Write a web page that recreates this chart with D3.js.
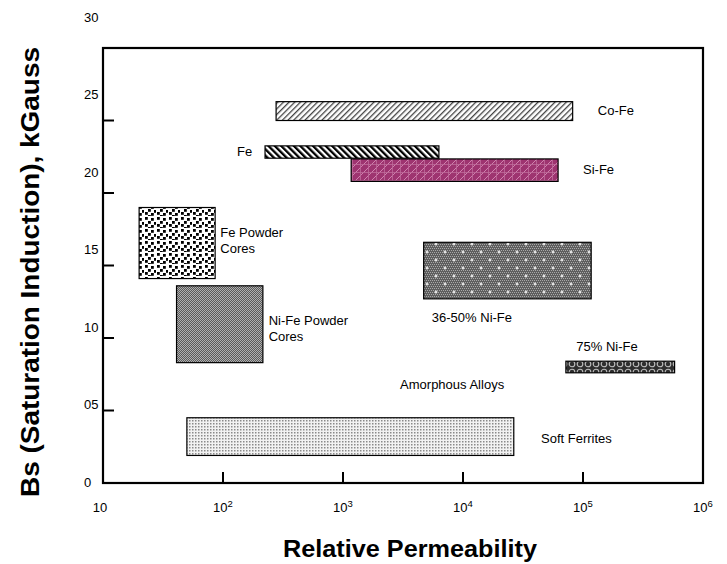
<!DOCTYPE html>
<html><head><meta charset="utf-8">
<script src="https://cdn.jsdelivr.net/npm/d3@7"></script>
<style>body{margin:0;background:#fff}svg{display:block;font-family:"Liberation Sans",Arial,sans-serif}</style>
</head><body>
<svg id="c" width="727" height="564"></svg>
<script>
// ---- data ----
const materials = ["Co-Fe","Fe","Si-Fe","Fe Powder Cores","Ni-Fe Powder Cores","36-50% Ni-Fe","75% Ni-Fe","Soft Ferrites"];
const muMin = [277, 224, 1170, 20, 41, 4700, 72000, 50];
const muMax = [82000, 6300, 62000, 86, 215, 117000, 580000, 26500];
const bsMin = [25.0, 22.4, 20.8, 14.1, 8.3, 12.7, 7.6, 1.9];
const bsMax = [26.3, 23.25, 22.35, 19.0, 13.6, 16.6, 8.4, 4.5];
const patterns = ["pCoFe","pFe","pSiFe","pFePow","pNiFePow","pNi36","pNi75","pSoft"];
const annotations = ["Co-Fe","Fe","Si-Fe","Fe Powder\nCores","Ni-Fe Powder\nCores","36-50% Ni-Fe","75% Ni-Fe","Amorphous Alloys","Soft Ferrites"];
const annMu = [133000, 131, 100000, 95, 240, 5500, 88000, 2990, 44700];
const annBs = [25.7, 22.85, 21.6, 17.3, 11.2, 11.4, 9.4, 6.8, 3.1];
const xTickValues = [10, 100, 1000, 10000, 100000, 1000000];
const xTickBase = ["10","10","10","10","10","10"];
const xTickExp = ["","2","3","4","5","6"];
const yTickValues = [5, 10, 15, 20, 25];
const yLabelValues = [0, 5, 10, 15, 20, 25, 30];
const yLabelText = ["0","05","10","15","20","25","30"];

const svg = d3.select("#c");
const x = d3.scaleLog().domain([10, 1e6]).range([103, 703]);
const y = d3.scaleLinear().domain([0, 30]).range([483, 48]);
const yLab = d3.scaleLinear().domain([0, 30]).range([482, 17]);

// ---- patterns ----
const defs = svg.append("defs");
function pat(id, w, h, tr){
  const p = defs.append("pattern").attr("id", id).attr("patternUnits","userSpaceOnUse").attr("width", w).attr("height", h);
  if (tr) p.attr("patternTransform", tr);
  return p;
}
let p;
p = pat("pCoFe", 4, 4, "rotate(45)");
p.append("rect").attr("width",4).attr("height",4).attr("fill","#fff");
p.append("rect").attr("width",1.3).attr("height",4).attr("fill","#444");
p = pat("pFe", 4.5, 4.5, "rotate(-45)");
p.append("rect").attr("width",4.5).attr("height",4.5).attr("fill","#fff");
p.append("rect").attr("width",2.3).attr("height",4.5).attr("fill","#000");
p = pat("pSiFe", 8, 8);
p.append("rect").attr("width",8).attr("height",8).attr("fill","#9e3470");
p.append("path").attr("d","M0,8 L8,0 M-2,2 L2,-2 M6,10 L10,6").attr("stroke","#d68ab6").attr("stroke-width",0.9);
p.append("path").attr("d","M0.5,0 V8 M0,4.5 H8").attr("stroke","#bf6b9b").attr("stroke-width",0.8);
p = pat("pFePow", 12, 12);
p.append("rect").attr("width",12).attr("height",12).attr("fill","#fff");
[[1,1],[7,2],[4,5],[10,6],[1,8],[7,9],[4,11]].forEach(d=>{
  p.append("rect").attr("x",d[0]).attr("y",d[1]).attr("width",2.8).attr("height",2.8).attr("fill","#000");
});
p = pat("pNiFePow", 2, 2);
p.append("rect").attr("width",2).attr("height",2).attr("fill","#5a5a5a");
p.append("rect").attr("width",1).attr("height",1).attr("fill","#b0b0b0");
p.append("rect").attr("x",1).attr("y",1).attr("width",1).attr("height",1).attr("fill","#b0b0b0");
p = pat("pNi36", 18, 16);
p.append("rect").attr("width",18).attr("height",16).attr("fill","#5e5e5e");
for (let i=0;i<18;i+=2) for (let j=0;j<16;j+=2){
  p.append("rect").attr("x",i+((j/2)%2)).attr("y",j).attr("width",1).attr("height",1).attr("fill","#a8a8a8");
}
[[4,4],[13,12]].forEach(d=>{
  p.append("path").attr("d",`M${d[0]-1.5},${d[1]} H${d[0]+1.5} M${d[0]},${d[1]-1.5} V${d[1]+1.5}`).attr("stroke","#fff").attr("stroke-width",1.2);
});
p = pat("pNi75", 8, 8);
p.append("rect").attr("width",8).attr("height",8).attr("fill","#2e2e2e");
p.append("circle").attr("cx",4).attr("cy",4).attr("r",2.8).attr("fill","none").attr("stroke","#bdbdbd").attr("stroke-width",1.1);
p = pat("pSoft", 3, 3);
p.append("rect").attr("width",3).attr("height",3).attr("fill","#f2f2f2");
p.append("rect").attr("width",1.5).attr("height",1.5).attr("fill","#8a8a8a");

// ---- bars ----
const idx = d3.range(materials.length);
svg.append("g").selectAll("rect").data(idx).join("rect")
  .attr("x", i => x(muMin[i]))
  .attr("y", i => y(bsMax[i]))
  .attr("width", i => x(muMax[i]) - x(muMin[i]))
  .attr("height", i => y(bsMin[i]) - y(bsMax[i]))
  .attr("fill", i => `url(#${patterns[i]})`)
  .attr("stroke", "#000").attr("stroke-width", 1.2);

// ---- frame ----
svg.append("rect").attr("x", x(10)).attr("y", y(30)).attr("width", x(1e6)-x(10)).attr("height", y(0)-y(30))
  .attr("fill","none").attr("stroke","#000").attr("stroke-width",2.2);

// ---- ticks ----
svg.append("g").selectAll("line").data(yTickValues).join("line")
  .attr("x1", x(10)).attr("x2", x(10)+11).attr("y1", d=>y(d)).attr("y2", d=>y(d))
  .attr("stroke","#000").attr("stroke-width",2);
svg.append("g").selectAll("line").data(xTickValues.slice(1,5)).join("line")
  .attr("x1", d=>x(d)).attr("x2", d=>x(d)).attr("y1", y(0)).attr("y2", y(0)-11)
  .attr("stroke","#000").attr("stroke-width",2);

// ---- tick labels ----
svg.append("g").selectAll("text").data(yLabelValues).join("text")
  .attr("x", 84).attr("y", d=>yLab(d)).attr("dy","0.35em")
  .attr("font-size", 13).attr("fill","#000")
  .text((d,i)=>yLabelText[i]);
const xl = svg.append("g").selectAll("text").data(xTickValues).join("text")
  .attr("x", (d,i)=> x(d) + (i===0 ? -3 : 0)).attr("y", 512)
  .attr("text-anchor","middle").attr("font-size",13).attr("fill","#000");
xl.append("tspan").text((d,i)=>xTickBase[i]);
xl.append("tspan").attr("font-size",9.5).attr("dy",-5).text((d,i)=>xTickExp[i]);

// ---- annotations ----
annotations.forEach((t,i)=>{
  const lines = t.split("\n");
  const tx = svg.append("text").attr("x", x(annMu[i])).attr("y", y(annBs[i]))
    .attr("font-size", 13).attr("fill","#000");
  lines.forEach((ln,k)=>{
    tx.append("tspan").attr("x", x(annMu[i])).attr("dy", k===0 ? "0.35em" : "1.25em").text(ln);
  });
});

// ---- axis titles ----
svg.append("text").attr("x", 410).attr("y", 557).attr("text-anchor","middle")
  .attr("font-size", 24).attr("font-weight","bold")
  .attr("textLength", 254).attr("lengthAdjust","spacingAndGlyphs").text("Relative Permeability");
svg.append("text").attr("transform","translate(39,272) rotate(-90)").attr("text-anchor","middle")
  .attr("font-size", 25).attr("font-weight","bold")
  .attr("textLength", 450).attr("lengthAdjust","spacingAndGlyphs").text("Bs (Saturation Induction), kGauss");
</script>
</body></html>
